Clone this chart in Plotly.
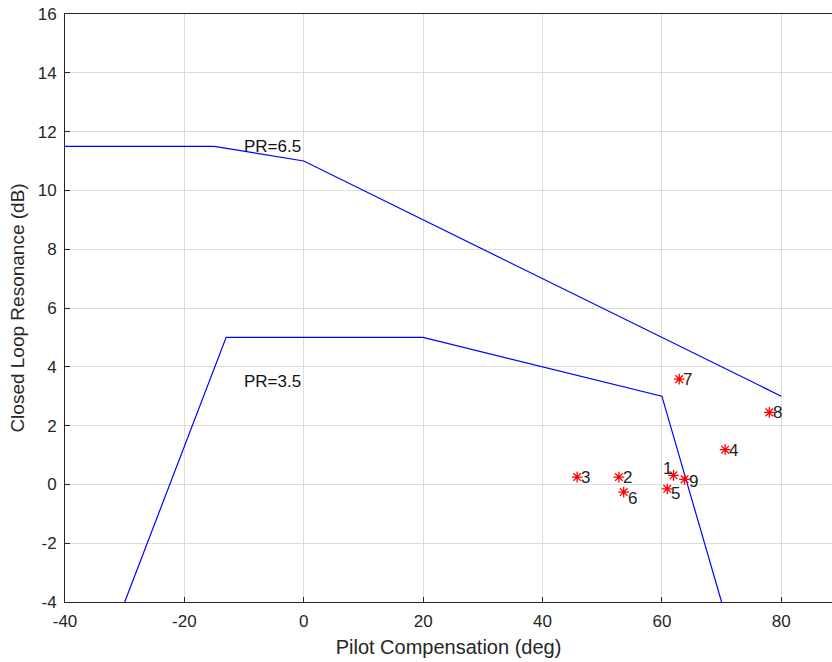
import plotly.graph_objects as go

# Boundary lines
upper_x = [-40, -15, 0, 80]
upper_y = [11.5, 11.5, 11, 3]
lower_x = [-30, -13, 20, 60, 70]
lower_y = [-4, 5, 5, 3, -4]

# Test points
pt_x = [61.95, 52.8, 45.8, 70.6, 60.9, 53.6, 62.9, 78.0, 63.8]
pt_y = [0.31, 0.25, 0.25, 1.18, -0.15, -0.26, 3.58, 2.45, 0.17]
pt_labels = ["1", "2", "3", "4", "5", "6", "7", "8", "9"]

region_labels = ["PR=6.5", "PR=3.5"]
region_x = [-10.3, -10.3]
region_y = [11.5, 3.5]

x_ticks = [-40, -20, 0, 20, 40, 60, 80]
y_ticks = [-4, -2, 0, 2, 4, 6, 8, 10, 12, 14, 16]

# label placement (style): anchor, pixel shifts
lab_anchor = ["right", "left", "left", "left", "left", "left", "left", "left", "left"]
lab_dx = [0, 2, 2, 2, 2, 2, 2, 2, 2]
lab_dy = [7, 0, 0, -1, -5, -6, 0, 0, -2]

fig = go.Figure()
blue = "#0000ff"
fig.add_trace(go.Scatter(x=upper_x, y=upper_y, mode="lines",
                         line=dict(color=blue, width=1.2), hoverinfo="skip"))
fig.add_trace(go.Scatter(x=lower_x, y=lower_y, mode="lines",
                         line=dict(color=blue, width=1.2), hoverinfo="skip"))
fig.add_trace(go.Scatter(x=pt_x, y=pt_y, mode="markers",
                         marker=dict(symbol="asterisk-open", size=9, color="red",
                                     line=dict(color="red", width=1.3))))

lab_font = dict(family="Liberation Sans, Arial", size=17, color="#222222")
for t, x, y, a, dx, dy in zip(pt_labels, pt_x, pt_y, lab_anchor, lab_dx, lab_dy):
    fig.add_annotation(x=x, y=y, text=t, showarrow=False, xanchor=a, yanchor="middle",
                       xshift=dx, yshift=dy, font=lab_font)

for t, x, y in zip(region_labels, region_x, region_y):
    fig.add_annotation(x=x, y=y, text=t, showarrow=False, xanchor="left", yanchor="middle",
                       font=dict(family="Liberation Sans, Arial", size=17, color="#111111"))

axis_font = dict(family="Liberation Sans, Arial", size=17, color="#262626")
fig.update_layout(
    width=832, height=662,
    margin=dict(l=65, r=0, t=14, b=60),
    paper_bgcolor="white", plot_bgcolor="white",
    showlegend=False,
    font=dict(family="Liberation Sans, Arial", color="#262626"),
    xaxis=dict(range=[-40, 88.5], tickvals=x_ticks, ticktext=[str(v) for v in x_ticks],
               showgrid=True, gridcolor="#dcdcdc",
               gridwidth=1, zeroline=False, showline=True, linecolor="#262626", linewidth=1,
               mirror=True, ticks="inside", ticklen=5, tickcolor="#262626",
               tickfont=axis_font, ticklabelstandoff=4,
               title=dict(text="Pilot Compensation (deg)",
                          font=dict(family="Liberation Sans, Arial", size=20, color="#262626"),
                          standoff=9)),
    yaxis=dict(range=[-4, 16], tickvals=y_ticks, ticktext=[str(v) for v in y_ticks],
               showgrid=True, gridcolor="#dcdcdc",
               gridwidth=1, zeroline=False, showline=True, linecolor="#262626", linewidth=1,
               ticks="inside", ticklen=5, tickcolor="#262626",
               tickfont=axis_font, ticklabelstandoff=4,
               title=dict(text="Closed Loop Resonance (dB)",
                          font=dict(family="Liberation Sans, Arial", size=19, color="#262626"),
                          standoff=8)),
)
fig.write_html("out.html")
